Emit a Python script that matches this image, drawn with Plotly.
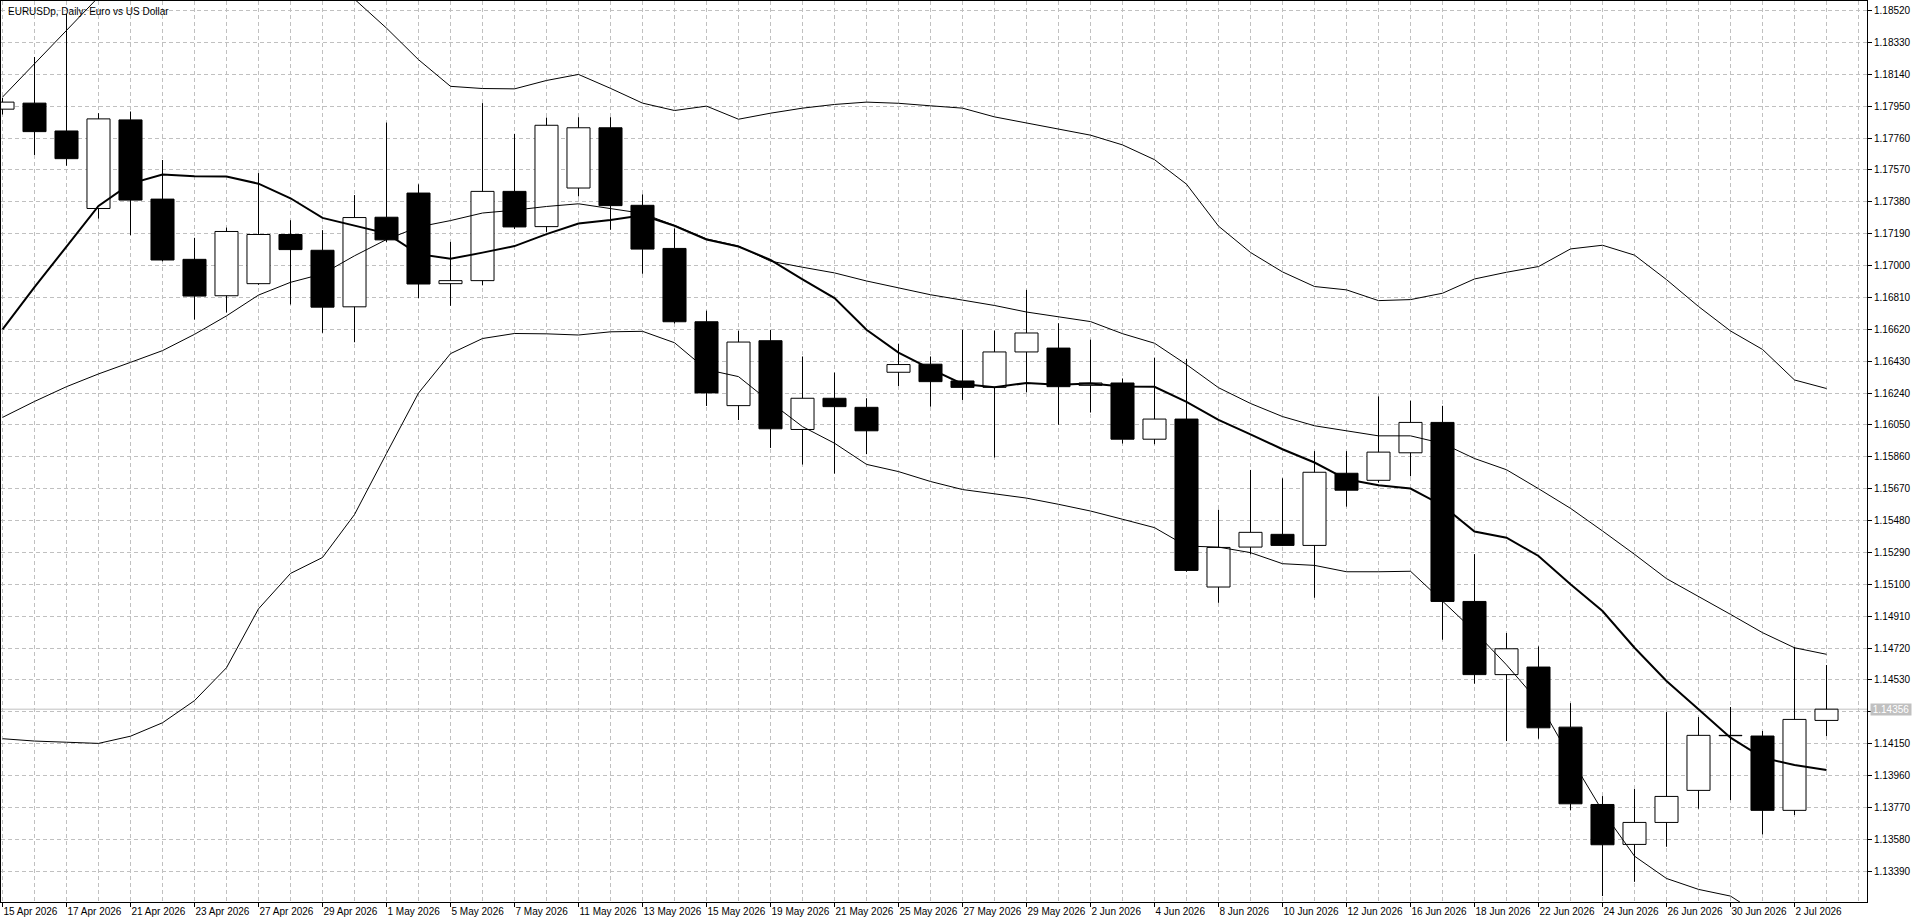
import plotly.graph_objects as go

# ---------------- data ----------------
dates = ["2026-04-15", "2026-04-16", "2026-04-17", "2026-04-20", "2026-04-21", "2026-04-22",
         "2026-04-23", "2026-04-24", "2026-04-27", "2026-04-28", "2026-04-29", "2026-04-30",
         "2026-05-01", "2026-05-04", "2026-05-05", "2026-05-06", "2026-05-07", "2026-05-08",
         "2026-05-11", "2026-05-12", "2026-05-13", "2026-05-14", "2026-05-15", "2026-05-18",
         "2026-05-19", "2026-05-20", "2026-05-21", "2026-05-22", "2026-05-25", "2026-05-26",
         "2026-05-27", "2026-05-28", "2026-05-29", "2026-06-01", "2026-06-02", "2026-06-03",
         "2026-06-04", "2026-06-05", "2026-06-08", "2026-06-09", "2026-06-10", "2026-06-11",
         "2026-06-12", "2026-06-15", "2026-06-16", "2026-06-17", "2026-06-18", "2026-06-19",
         "2026-06-22", "2026-06-23", "2026-06-24", "2026-06-25", "2026-06-26", "2026-06-29",
         "2026-06-30", "2026-07-01", "2026-07-02", "2026-07-03"]

open_ = [1.17932, 1.17968, 1.17802, 1.17340, 1.17868, 1.17396, 1.17037, 1.16820, 1.16892, 1.17185,
         1.17091, 1.16754, 1.17288, 1.17432, 1.16892, 1.16910, 1.17442, 1.17232, 1.17462, 1.17821,
         1.17359, 1.17102, 1.16665, 1.16165, 1.16552, 1.16023, 1.16209, 1.16155, 1.16364, 1.16412,
         1.16312, 1.16274, 1.16485, 1.16508, 1.16286, 1.16300, 1.15965, 1.16085, 1.15084, 1.15322,
         1.15398, 1.15332, 1.15762, 1.15720, 1.15884, 1.16065, 1.14998, 1.14562, 1.14607, 1.14249,
         1.13788, 1.13550, 1.13681, 1.13872, 1.14200, 1.14196, 1.13753, 1.14289]
high = [1.18000, 1.18243, 1.18500, 1.17908, 1.17918, 1.17629, 1.17165, 1.17226, 1.17551, 1.17270,
        1.17211, 1.17420, 1.17852, 1.17484, 1.17141, 1.17968, 1.17785, 1.17882, 1.17884, 1.17884,
        1.17424, 1.17221, 1.16731, 1.16611, 1.16617, 1.16458, 1.16362, 1.16209, 1.16534, 1.16458,
        1.16617, 1.16612, 1.16855, 1.16656, 1.16558, 1.16327, 1.16451, 1.16443, 1.15545, 1.15782,
        1.15732, 1.15894, 1.15894, 1.16220, 1.16194, 1.16164, 1.15280, 1.14810, 1.14730, 1.14392,
        1.13838, 1.13880, 1.14339, 1.14309, 1.14369, 1.14226, 1.14726, 1.14619]
low = [1.17900, 1.17659, 1.17595, 1.17280, 1.17181, 1.17025, 1.16678, 1.16720, 1.16885, 1.16768,
       1.16599, 1.16543, 1.17140, 1.16806, 1.16760, 1.16882, 1.17218, 1.17200, 1.17412, 1.17213,
       1.16951, 1.16655, 1.16163, 1.16079, 1.15913, 1.15814, 1.15760, 1.15876, 1.16282, 1.16159,
       1.16199, 1.15856, 1.16244, 1.16051, 1.16124, 1.15939, 1.15935, 1.15175, 1.14990, 1.15279,
       1.15328, 1.15020, 1.15563, 1.15706, 1.15744, 1.14770, 1.14508, 1.14166, 1.14180, 1.13753,
       1.13242, 1.13327, 1.13536, 1.13763, 1.13814, 1.13610, 1.13725, 1.14196]
close = [1.17974, 1.17798, 1.17637, 1.17874, 1.17390, 1.17033, 1.16818, 1.17203, 1.17185, 1.17095,
         1.16752, 1.17286, 1.17153, 1.16890, 1.16910, 1.17442, 1.17230, 1.17836, 1.17821, 1.17357,
         1.17098, 1.16665, 1.16241, 1.16544, 1.16027, 1.16209, 1.16159, 1.16015, 1.16410, 1.16308,
         1.16274, 1.16485, 1.16598, 1.16278, 1.16300, 1.15965, 1.16085, 1.15183, 1.15320, 1.15410,
         1.15332, 1.15768, 1.15661, 1.15888, 1.16065, 1.14998, 1.14562, 1.14716, 1.14245, 1.13792,
         1.13548, 1.13681, 1.13836, 1.14200, 1.14198, 1.13753, 1.14295, 1.14356]

bb_upper = [1.18004, 1.18201, 1.18401, 1.18600, 1.18760, 1.18860, 1.18910, 1.18920, 1.18900, 1.18850,
            1.18760, 1.18590, 1.18415, 1.18227, 1.18068, 1.18055, 1.18053, 1.18103, 1.18139, 1.18056,
            1.17968, 1.17924, 1.17950, 1.17872, 1.17908, 1.17938, 1.17960, 1.17974, 1.17967, 1.17952,
            1.17938, 1.17886, 1.17850, 1.17814, 1.17777, 1.17719, 1.17631, 1.17485, 1.17235, 1.17078,
            1.16962, 1.16875, 1.16855, 1.16791, 1.16797, 1.16835, 1.16920, 1.16960, 1.16994, 1.17099,
            1.17121, 1.17062, 1.16916, 1.16756, 1.16610, 1.16500, 1.16318, 1.16267]
bb_middle = [1.16095, 1.16190, 1.16278, 1.16354, 1.16423, 1.16493, 1.16590, 1.16700, 1.16824, 1.16900,
             1.16950, 1.17058, 1.17155, 1.17230, 1.17268, 1.17313, 1.17330, 1.17352, 1.17368, 1.17339,
             1.17311, 1.17239, 1.17159, 1.17116, 1.17026, 1.16990, 1.16956, 1.16908, 1.16865, 1.16826,
             1.16794, 1.16762, 1.16723, 1.16694, 1.16666, 1.16594, 1.16537, 1.16410, 1.16272, 1.16178,
             1.16100, 1.16045, 1.16015, 1.15985, 1.15985, 1.15940, 1.15850, 1.15783, 1.15670, 1.15553,
             1.15418, 1.15279, 1.15134, 1.15030, 1.14921, 1.14812, 1.14722, 1.14683]
bb_lower = [1.14180, 1.14166, 1.14159, 1.14152, 1.14195, 1.14275, 1.14407, 1.14603, 1.14954, 1.15165,
            1.15260, 1.15516, 1.15880, 1.16240, 1.16475, 1.16565, 1.16595, 1.16593, 1.16586, 1.16605,
            1.16608, 1.16540, 1.16380, 1.16338, 1.16185, 1.16040, 1.15941, 1.15815, 1.15772, 1.15713,
            1.15665, 1.15638, 1.15614, 1.15577, 1.15537, 1.15488, 1.15438, 1.15328, 1.15322, 1.15289,
            1.15223, 1.15213, 1.15175, 1.15175, 1.15178, 1.15000, 1.14820, 1.14620, 1.14400, 1.14067,
            1.13749, 1.13480, 1.13347, 1.13282, 1.13242, 1.13120, 1.13000, 1.12930]
ma_thick = [1.16620, 1.16871, 1.17113, 1.17355, 1.17488, 1.17542, 1.17532, 1.17530, 1.17488, 1.17401,
            1.17284, 1.17237, 1.17192, 1.17068, 1.17040, 1.17077, 1.17116, 1.17187, 1.17250, 1.17272,
            1.17299, 1.17237, 1.17155, 1.17113, 1.17034, 1.16918, 1.16806, 1.16617, 1.16481, 1.16384,
            1.16294, 1.16275, 1.16300, 1.16289, 1.16297, 1.16279, 1.16277, 1.16188, 1.16080, 1.15994,
            1.15905, 1.15826, 1.15726, 1.15691, 1.15671, 1.15570, 1.15415, 1.15378, 1.15269, 1.15100,
            1.14941, 1.14722, 1.14524, 1.14355, 1.14186, 1.14067, 1.14023, 1.13993]

x_tick_labels = ["15 Apr 2026", "17 Apr 2026", "21 Apr 2026", "23 Apr 2026", "27 Apr 2026",
                 "29 Apr 2026", "1 May 2026", "5 May 2026", "7 May 2026", "11 May 2026",
                 "13 May 2026", "15 May 2026", "19 May 2026", "21 May 2026", "25 May 2026",
                 "27 May 2026", "29 May 2026", "2 Jun 2026", "4 Jun 2026", "8 Jun 2026",
                 "10 Jun 2026", "12 Jun 2026", "16 Jun 2026", "18 Jun 2026", "22 Jun 2026",
                 "24 Jun 2026", "26 Jun 2026", "30 Jun 2026", "2 Jul 2026"]
y_tick_values = [1.18520, 1.18330, 1.18140, 1.17950, 1.17760, 1.17570, 1.17380, 1.17190, 1.17000,
                 1.16810, 1.16620, 1.16430, 1.16240, 1.16050, 1.15860, 1.15670, 1.15480, 1.15290,
                 1.15100, 1.14910, 1.14720, 1.14530, 1.14340, 1.14150, 1.13960, 1.13770, 1.13580,
                 1.13390]
last_price = 1.14356
# the 1.14340 label sits under the current-price box, as in the terminal
y_tick_labels = ["" if abs(v - 1.14340) < 1e-9 else "%.5f" % v for v in y_tick_values]
title_text = "EURUSDp, Daily: Euro vs US Dollar"

# ---------------- figure ----------------
FONT = "Liberation Sans, Arial, sans-serif"
FS = 10
n = len(dates)
xs = list(range(n))

# wicks: upper and lower segments only (so white bodies stay clean)
wx, wy = [], []
for i in xs:
    top = max(open_[i], close[i])
    bot = min(open_[i], close[i])
    wx += [i, i, None, i, i, None]
    wy += [top, high[i], None, bot, low[i], None]

bull_x = [i for i in xs if close[i] >= open_[i]]
bear_x = [i for i in xs if close[i] < open_[i]]

fig = go.Figure()
fig.add_trace(go.Scatter(x=wx, y=wy, mode="lines", line=dict(color="black", width=1),
                         hoverinfo="skip", showlegend=False))
fig.add_trace(go.Bar(x=bull_x, base=[open_[i] for i in bull_x],
                     y=[max(close[i] - open_[i], 0.00002) for i in bull_x],
                     width=0.72, marker=dict(color="white", line=dict(color="black", width=1)),
                     showlegend=False))
fig.add_trace(go.Bar(x=bear_x, base=[close[i] for i in bear_x],
                     y=[max(open_[i] - close[i], 0.00002) for i in bear_x],
                     width=0.72, marker=dict(color="black", line=dict(color="black", width=1)),
                     showlegend=False))
for series in (bb_upper, bb_middle, bb_lower):
    fig.add_trace(go.Scatter(x=xs, y=series, mode="lines", line=dict(color="black", width=1),
                             hoverinfo="skip", showlegend=False))
fig.add_trace(go.Scatter(x=xs, y=ma_thick, mode="lines", line=dict(color="black", width=2),
                         hoverinfo="skip", showlegend=False))

W, H = 1920, 923
ml, mr, mt, mb = 1, 53, 1, 21
plot_w = W - ml - mr
x0 = -1.5 / 32.0
x1 = x0 + plot_w / 32.0
px_per_unit = 31.88 / 0.0019
y_top = 1.18520 + 9.5 / px_per_unit
y_bot = 1.18520 - (902 - 10.5) / px_per_unit

fig.update_layout(
    width=W, height=H,
    margin=dict(l=ml, r=mr, t=mt, b=mb, pad=0, autoexpand=False),
    paper_bgcolor="white", plot_bgcolor="white",
    barmode="overlay",
    font=dict(family=FONT, size=FS, color="black"),
    showlegend=False,
    xaxis=dict(
        range=[x0, x1], tickmode="array",
        tickvals=[i for i in xs if i % 2 == 0], ticktext=x_tick_labels,
        ticks="outside", ticklen=4, tickcolor="black", tickwidth=1,
        ticklabelposition="outside right", tickangle=0, automargin=False,
        showgrid=True, gridcolor="#c0c0c0", gridwidth=1, griddash="4px,3px",
        minor=dict(dtick=1, tick0=0, showgrid=True, gridcolor="#c0c0c0", gridwidth=1,
                   griddash="4px,3px", ticks=""),
        showline=True, linecolor="black", linewidth=1, mirror=True,
        zeroline=False, fixedrange=True,
        tickfont=dict(family=FONT, size=FS, color="black"),
    ),
    yaxis=dict(
        range=[y_bot, y_top], side="right", tickmode="array",
        tickvals=y_tick_values, ticktext=y_tick_labels, automargin=False,
        ticks="outside", ticklen=4, tickcolor="black", tickwidth=1,
        showgrid=True, gridcolor="#c0c0c0", gridwidth=1, griddash="4px,3px",
        showline=True, linecolor="black", linewidth=1, mirror=True,
        zeroline=False, fixedrange=True,
        tickfont=dict(family=FONT, size=FS, color="black"),
    ),
    shapes=[dict(type="line", xref="paper", yref="y", x0=0, x1=1, y0=last_price, y1=last_price,
                 line=dict(color="#c0c0c0", width=1), layer="below")],
    annotations=[
        dict(text=title_text, xref="paper", yref="paper", x=0, y=1, xanchor="left", yanchor="top",
             xshift=5, yshift=-3, showarrow=False, font=dict(family=FONT, size=FS, color="black")),
        dict(text="%.5f" % last_price, xref="paper", yref="y", x=1, y=last_price,
             xanchor="left", yanchor="middle", xshift=3, showarrow=False,
             bgcolor="#c0c0c0", borderpad=0, width=40, height=11,
             font=dict(family=FONT, size=FS, color="white")),
    ],
)

fig.write_html("out.html", config={"displayModeBar": False})
